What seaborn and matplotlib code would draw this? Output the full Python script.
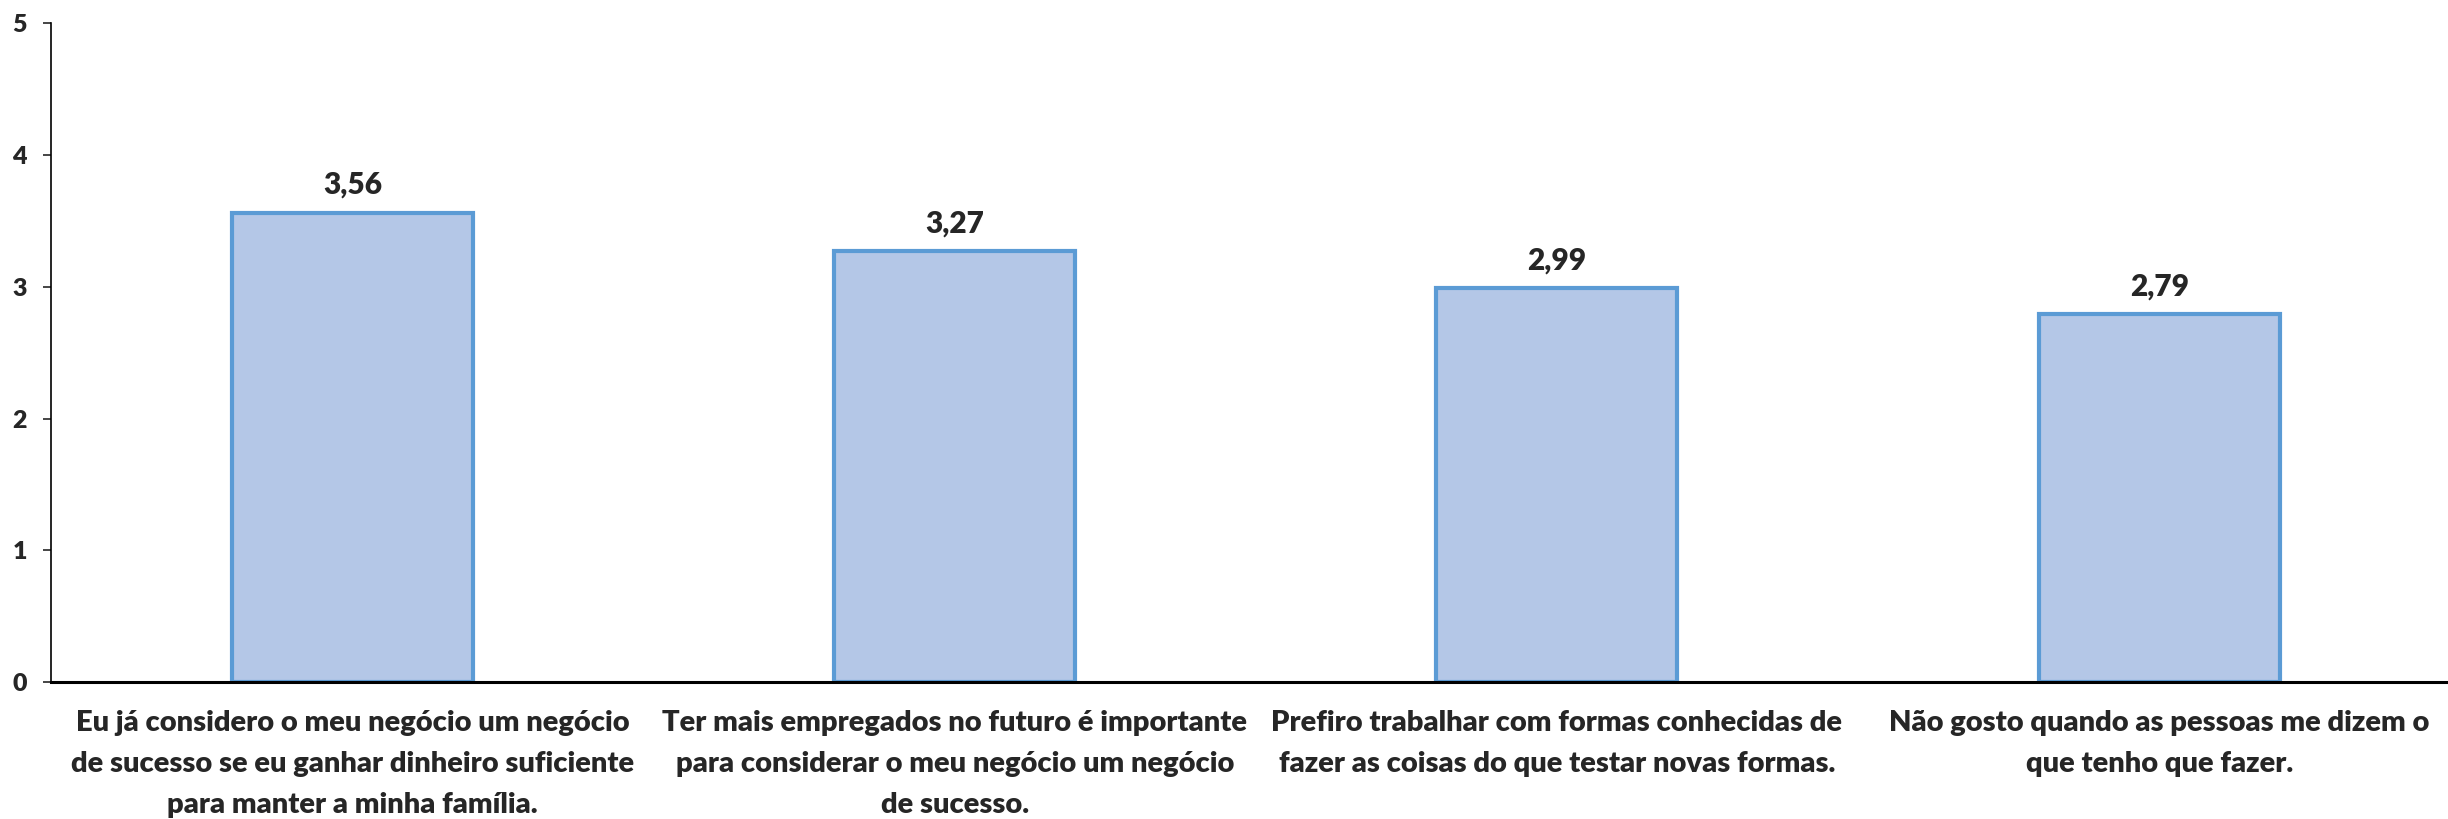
import matplotlib
matplotlib.use("Agg")
import matplotlib.pyplot as plt
import seaborn as sns
import pandas as pd

# chart data
categories = [
    "Eu já considero o meu negócio um negócio\nde sucesso se eu ganhar dinheiro suficiente\npara manter a minha família.",
    "Ter mais empregados no futuro é importante\npara considerar o meu negócio um negócio\nde sucesso.",
    "Prefiro trabalhar com formas conhecidas de\nfazer as coisas do que testar novas formas.",
    "Não gosto quando as pessoas me dizem o\nque tenho que fazer.",
]
values = [3.56, 3.27, 2.99, 2.79]
y_ticks = [0, 1, 2, 3, 4, 5]

sns.set_style("white")
plt.rcParams["font.family"] = ["Lato", "DejaVu Sans"]
plt.rcParams["font.weight"] = "heavy"

df = pd.DataFrame({"item": categories, "media": values})

fig = plt.figure(figsize=(24.48, 8.19), dpi=100)
ax = fig.add_axes([0.021, 0.167, 0.984, 0.805])

sns.barplot(
    data=df, x="item", y="media", ax=ax,
    width=0.4, color="#B4C7E7", saturation=1,
    edgecolor="#5B9BD5", linewidth=3,
)

# value labels with comma decimal
ax.bar_label(
    ax.containers[0],
    labels=[f"{v:.2f}".replace(".", ",") for v in values],
    padding=10, fontsize=21.5, fontweight="heavy",
)

ax.set_xlim(-0.5, 3.5)
ax.set_ylim(0, 5)
ax.set_yticks(y_ticks)
ax.set_xlabel("")
ax.set_ylabel("")

sns.despine(ax=ax, top=True, right=True)
ax.spines["left"].set_linewidth(1.2)
ax.spines["left"].set_color("black")
ax.spines["bottom"].set_linewidth(2.2)
ax.spines["bottom"].set_color("black")
ax.spines["bottom"].set_zorder(5)

ax.tick_params(axis="y", direction="out", length=5.5, width=1.2, pad=12,
               labelsize=18, left=True)
ax.tick_params(axis="x", length=0, pad=20, labelsize=21)
for lab in ax.get_xticklabels():
    lab.set_fontweight("heavy")
    lab.set_multialignment("center")
    lab.set_linespacing(1.72)
for lab in ax.get_yticklabels():
    lab.set_fontweight("heavy")

fig.savefig("out.png", dpi=100)
plt.close(fig)
